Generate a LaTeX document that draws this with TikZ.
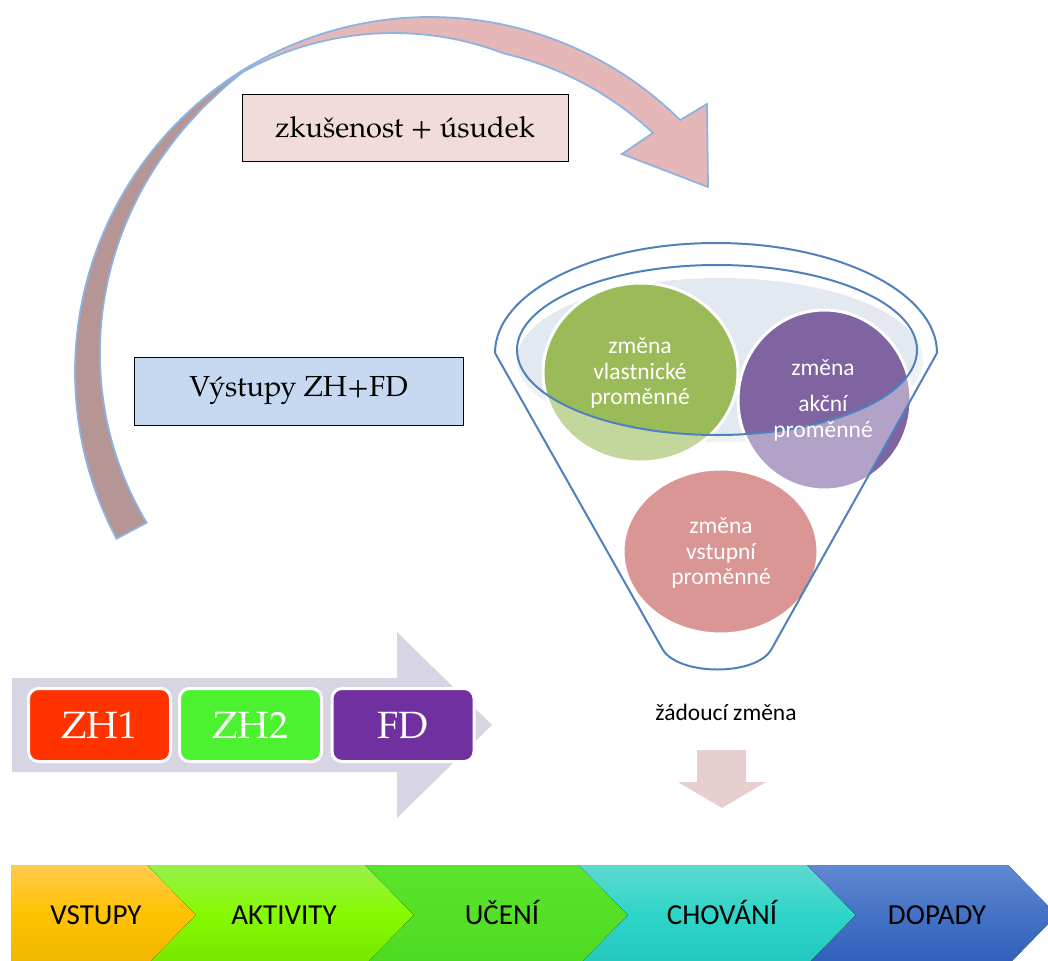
\documentclass[tikz,border=0pt]{standalone}
\usepackage{fontspec}
\newfontfamily\palfont{texgyrepagella-regular.otf}
\newfontfamily\calfont{Carlito}
\usetikzlibrary{shapes.geometric}

\definecolor{arcbrown}{HTML}{B59694}
\definecolor{arcpink}{HTML}{E5B8B7}
\definecolor{arcline}{HTML}{8DB3E2}
\definecolor{expfill}{HTML}{F2DCDB}
\definecolor{outfill}{HTML}{C6D9F1}
\definecolor{rimfill}{HTML}{E3E8F1}
\definecolor{funnelblue}{HTML}{4F81BD}
\definecolor{ownclr}{HTML}{9BBB59}
\definecolor{actclr}{HTML}{8064A2}
\definecolor{inpclr}{HTML}{C0504D}
\definecolor{downpink}{HTML}{E7CFCF}
\definecolor{lavender}{HTML}{D7D4E3}
\definecolor{zhred}{HTML}{FF3300}
\definecolor{zhgreen}{HTML}{4CF22F}
\definecolor{fdpurple}{HTML}{7030A0}
% result chain gradients: top / middle / bottom
\definecolor{cAt}{HTML}{FFCB4C}\definecolor{cAm}{HTML}{FFC200}\definecolor{cAb}{HTML}{EEB600}
\definecolor{cBt}{HTML}{98F04A}\definecolor{cBm}{HTML}{86FA00}\definecolor{cBb}{HTML}{76E600}
\definecolor{cCt}{HTML}{5AE32C}\definecolor{cCm}{HTML}{55E027}\definecolor{cCb}{HTML}{4CDA22}
\definecolor{cDt}{HTML}{5ED9CF}\definecolor{cDm}{HTML}{2ED5C9}\definecolor{cDb}{HTML}{22C6BD}
\definecolor{cEt}{HTML}{6089D2}\definecolor{cEm}{HTML}{4472C4}\definecolor{cEb}{HTML}{305FBB}

\tikzset{
  bandline/.style={draw=arcline, line width=1.8},
  labelbox/.style={draw=black, line width=0.8, inner sep=0,
    font=\palfont\fontsize{29}{34}\selectfont},
  varcircle/.style={ellipse, draw=white, line width=3, inner sep=0},
  vartext/.style={text=white, align=center,
    font=\calfont\fontsize{23.5}{25.5}\selectfont},
  zhbox/.style={rounded corners=10, draw=white, line width=3,
    minimum width=142, minimum height=73, inner sep=0, text=white,
    font=\palfont\fontsize{38}{44}\selectfont},
  chevtext/.style={font=\calfont\fontsize{29}{34}\selectfont, text=black,
    anchor=base, inner sep=0},
}

\begin{document}
\begin{tikzpicture}[x=1pt,y=-1pt]
\useasboundingbox (0,0) rectangle (1048,960);
\clip (0,0) rectangle (1048,960);

% ---------- curved feedback arrow ----------
\def\aX{430}\def\aY{372}\def\aR{355}
% left (brown) part of the band, tapering towards the top
\filldraw[bandline, fill=arcbrown]
  plot[domain=152:239, samples=60] ({\aX+\aR*cos(\x)}, {\aY+\aR*sin(\x)})
  -- plot[domain=238.9:152, samples=60]
     ({\aX+(\aR-34*((239-\x)/87)^0.75)*cos(\x)}, {\aY+(\aR-34*((239-\x)/87)^0.75)*sin(\x)})
  -- cycle;
% right (pink) part of the band with the arrow head
\filldraw[bandline, fill=arcpink]
  plot[domain=231:314.8, samples=70] ({\aX+\aR*cos(\x)}, {\aY+\aR*sin(\x)})
  -- (707,104) -- (708,187) -- (622,154)
  -- plot[domain=313:231.1, samples=70]
     ({\aX+(\aR-28*min(1,(\x-231)/52)^1.5)*cos(\x)}, {\aY+(\aR-28*min(1,(\x-231)/52)^1.5)*sin(\x)})
  -- cycle;

% ---------- label boxes ----------
\node[labelbox, fill=expfill, minimum width=326, minimum height=67] (exp) at (405,127.5) {zkušenost + úsudek};
\node[labelbox, fill=outfill, minimum width=329, minimum height=68] (out) at (298.5,391) {Výstupy ZH+FD};

% ---------- funnel ----------
\fill[rimfill] (720,360) ellipse[x radius=203, y radius=82];
\node[varcircle, fill=ownclr, minimum width=195, minimum height=179] (own) at (640.5,372.5) {};
\node[varcircle, fill=actclr, minimum width=173, minimum height=180] (act) at (824.5,400) {};
\node[varcircle, fill=inpclr, minimum width=195, minimum height=165] (inp) at (720.5,551.5) {};
% glass of the funnel body lightens what lies inside it
\fill[white, fill opacity=0.4, even odd rule]
  (495,353) arc[start angle=180, end angle=360, x radius=221, y radius=110]
  -- (771,650) .. controls (755,676) and (680,676) .. (663,650) -- cycle
  (717,350) ellipse[x radius=200, y radius=85];
\draw[funnelblue, line width=2]
  (495,353) arc[start angle=180, end angle=360, x radius=221, y radius=110]
  -- (771,650) .. controls (755,676) and (680,676) .. (663,650) -- cycle;
\draw[funnelblue, line width=2] (717,350) ellipse[x radius=200, y radius=85];

\node[vartext] (ownt) at (640,373) {změna\\vlastnické\\proměnné};
\node[vartext] (actt) at (823,400) {změna\\[11pt]akční\\proměnné};
\node[vartext] (inpt) at (721,553) {změna\\vstupní\\proměnné};

\node[font=\calfont\fontsize{23.5}{28}\selectfont] (want) at (726,712) {žádoucí změna};
\fill[downpink] (697,750) -- (746,750) -- (746,782) -- (766,782)
  -- (722,808) -- (678,782) -- (697,782) -- cycle;

% ---------- ZH / FD process arrow ----------
\fill[lavender] (12,678) -- (397,678) -- (397,632) -- (492,725)
  -- (397,818) -- (397,772) -- (12,772) -- cycle;
\node[zhbox, fill=zhred] (zh1) at (99.5,725) {ZH1};
\node[zhbox, fill=zhgreen] (zh2) at (250.5,725) {ZH2};
\node[zhbox, fill=fdpurple] (fd) at (403,725) {FD};

% ---------- result chain ----------
\fill[top color=cAt, bottom color=cAb, middle color=cAm]
  (11,865) -- (147,865) -- (196,915) -- (147,965) -- (11,965) -- cycle;
\fill[top color=cBt, bottom color=cBb, middle color=cBm]
  (147,865) -- (365,865) -- (414,915) -- (365,965) -- (147,965) -- (196,915) -- cycle;
\fill[top color=cCt, bottom color=cCb, middle color=cCm]
  (365,865) -- (579,865) -- (628,915) -- (579,965) -- (365,965) -- (414,915) -- cycle;
\fill[top color=cDt, bottom color=cDb, middle color=cDm]
  (579,865) -- (807,865) -- (856,915) -- (807,965) -- (579,965) -- (628,915) -- cycle;
\fill[top color=cEt, bottom color=cEb, middle color=cEm]
  (807,865) -- (1008,865) -- (1057,915) -- (1008,965) -- (807,965) -- (856,915) -- cycle;
\node[chevtext] (c1) at (96,924) {VSTUPY};
\node[chevtext] (c2) at (284,924) {AKTIVITY};
\node[chevtext] (c3) at (502,924) {UČENÍ};
\node[chevtext] (c4) at (722,924) {CHOVÁNÍ};
\node[chevtext] (c5) at (937,924) {DOPADY};
\end{tikzpicture}
\end{document}
